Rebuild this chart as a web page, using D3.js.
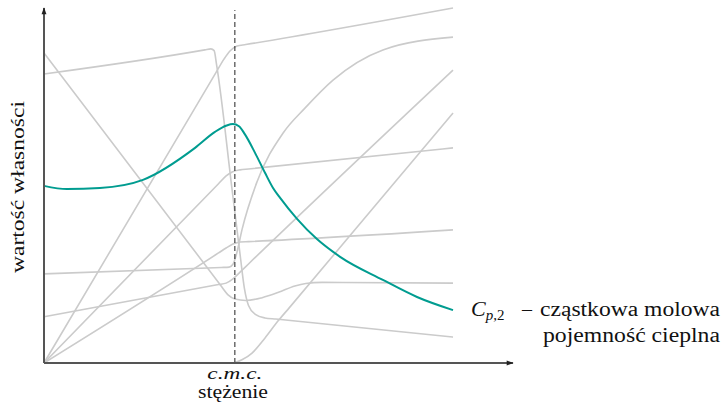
<!DOCTYPE html>
<html lang="pl">
<head>
    <meta charset="UTF-8">
    <title>Cp,2</title>
</head>
<style>
    body { margin: 0; background: #fff; }
    .gray { fill: none; stroke: #cbcbcb; stroke-width: 1.6px; }
    .teal { fill: none; stroke: #009c90; stroke-width: 2px; }
    .axis-line { stroke: #555; stroke-width: 2px; }
    .cmc { stroke: #222; stroke-width: 1px; stroke-dasharray: 5,3; }
    text { font-family: "Liberation Serif", "Times New Roman", serif; fill: #111; }
</style>
<body>
<svg width="724" height="405"></svg>
<script src="https://d3js.org/d3.v7.min.js"></script>
<script>
    // dane (jednostki umowne): x = stężenie, y = wartość własności
    var cmc = 7.0;
    var xMax = 15, yMax = 10;
    var grayCurves = [
        [[0,8.14],[5.9,8.82],[6.12,8.85],[6.24,8.8],[6.33,8.4],[6.9,4.87],[7.2,3.0],[7.35,2.1],[7.5,1.62],[7.75,1.37],[8.1,1.27],[8.5,1.24],[15,0.73]],
        [[0,8.73],[6.4,2.27],[6.75,1.92],[7.0,1.8],[7.4,1.76],[8.0,1.84],[8.6,1.99],[9.2,2.17],[9.6,2.24],[10.2,2.27],[15,2.25]],
        [[0,0],[6.3,8.17],[6.6,8.56],[6.82,8.79],[7.08,8.93],[7.4,8.97],[15,10]],
        [[0,0],[6.4,5.05],[6.68,5.27],[6.9,5.38],[7.19,5.44],[7.5,5.465],[15,6.06]],
        [[0,0],[6.4,3.1],[6.68,3.24],[6.93,3.35],[7.19,3.41],[7.5,3.42],[15,3.75]],
        [[0,2.51],[6.5,2.69],[6.79,2.7],[6.93,2.78],[7.08,3.13],[7.26,3.75],[7.81,5.1],[8.77,6.48],[9.57,7.18],[10.6,7.97],[12.43,8.82],[15,9.18]],
        [[0,1.3],[6.4,2.21],[6.68,2.25],[6.93,2.37],[7.19,2.56],[7.5,2.79],[15,8.25]],
        [[0,0],[6.9,0],[7.26,0.09],[7.63,0.28],[8.1,0.7],[8.58,1.18],[9.0,1.56],[15,7.04]]
    ];
    var cp2 = [[0,4.99],[0.84,4.9],[2.05,4.93],[3.63,5.16],[5.54,6.06],[6.27,6.51],[6.7,6.69],[6.93,6.73],
        [7.15,6.67],[7.37,6.44],[7.74,5.92],[8.11,5.35],[8.4,4.93],[8.66,4.65],[9.28,4.06],[10.01,3.49],[10.86,2.99],
        [12.43,2.34],[13.68,1.86],[15,1.49]];

    var svg = d3.select("svg");
    var x = d3.scaleLinear().domain([0, xMax]).range([44, 453]),
        y = d3.scaleLinear().domain([0, yMax]).range([363, 8]);

    var line = d3.line()
        .x(function (d) { return x(d[0]); })
        .y(function (d) { return y(d[1]); })
        .curve(d3.curveMonotoneX);

    svg.append("defs").append("marker")
        .attr("id", "arrow")
        .attr("viewBox", "0 0 10 10")
        .attr("refX", 9).attr("refY", 5)
        .attr("markerWidth", 9).attr("markerHeight", 7)
        .attr("markerUnits", "userSpaceOnUse")
        .attr("orient", "auto")
        .append("path")
        .attr("d", "M0,1.5L10,5L0,8.5Z")
        .attr("fill", "#222");

    svg.selectAll(".gray")
        .data(grayCurves)
        .enter().append("path")
        .attr("class", "gray")
        .attr("d", line);

    svg.append("path")
        .datum(cp2)
        .attr("class", "teal")
        .attr("d", line);

    // linia c.m.c.
    svg.append("line")
        .attr("class", "cmc")
        .attr("x1", x(cmc)).attr("x2", x(cmc))
        .attr("y1", y(0)).attr("y2", y(yMax * 0.994));

    // osie
    svg.append("line")
        .attr("class", "axis-line")
        .attr("x1", x(0)).attr("y1", y(0))
        .attr("x2", x(17.2)).attr("y2", y(0))
        .attr("marker-end", "url(#arrow)");
    svg.append("line")
        .attr("class", "axis-line")
        .attr("x1", x(0)).attr("y1", y(0))
        .attr("x2", x(0)).attr("y2", y(yMax))
        .attr("marker-end", "url(#arrow)");

    svg.append("text")
        .attr("x", x(cmc)).attr("y", 379)
        .attr("text-anchor", "middle")
        .attr("font-style", "italic")
        .attr("font-size", 16)
        .attr("textLength", 55)
        .attr("lengthAdjust", "spacingAndGlyphs")
        .text("c.m.c.");
    svg.append("text")
        .attr("x", 233).attr("y", 398)
        .attr("text-anchor", "middle")
        .attr("font-size", 18)
        .attr("textLength", 70)
        .attr("lengthAdjust", "spacingAndGlyphs")
        .text("stężenie");

    svg.append("text")
        .attr("transform", "translate(24," + 187 + ") rotate(-90)")
        .attr("text-anchor", "middle")
        .attr("font-size", 19)
        .attr("textLength", 172)
        .attr("lengthAdjust", "spacingAndGlyphs")
        .text("wartość własności");

    // etykieta krzywej Cp,2
    var lab = svg.append("text")
        .attr("x", 471).attr("y", 316)
        .attr("font-size", 22);
    lab.append("tspan").attr("font-style", "italic").text("C");
    lab.append("tspan").attr("font-style", "italic").attr("font-size", 15).attr("dy", 4).text("p");
    lab.append("tspan").attr("font-size", 15).text(",2");
    svg.append("text")
        .attr("x", 522).attr("y", 316)
        .attr("font-size", 20)
        .text("–");
    svg.append("text")
        .attr("x", 540).attr("y", 316)
        .attr("font-size", 20)
        .attr("textLength", 180)
        .attr("lengthAdjust", "spacingAndGlyphs")
        .text("cząstkowa molowa");
    svg.append("text")
        .attr("x", 543).attr("y", 342)
        .attr("font-size", 20)
        .attr("textLength", 177)
        .attr("lengthAdjust", "spacingAndGlyphs")
        .text("pojemność cieplna");
</script>
</body>
</html>
